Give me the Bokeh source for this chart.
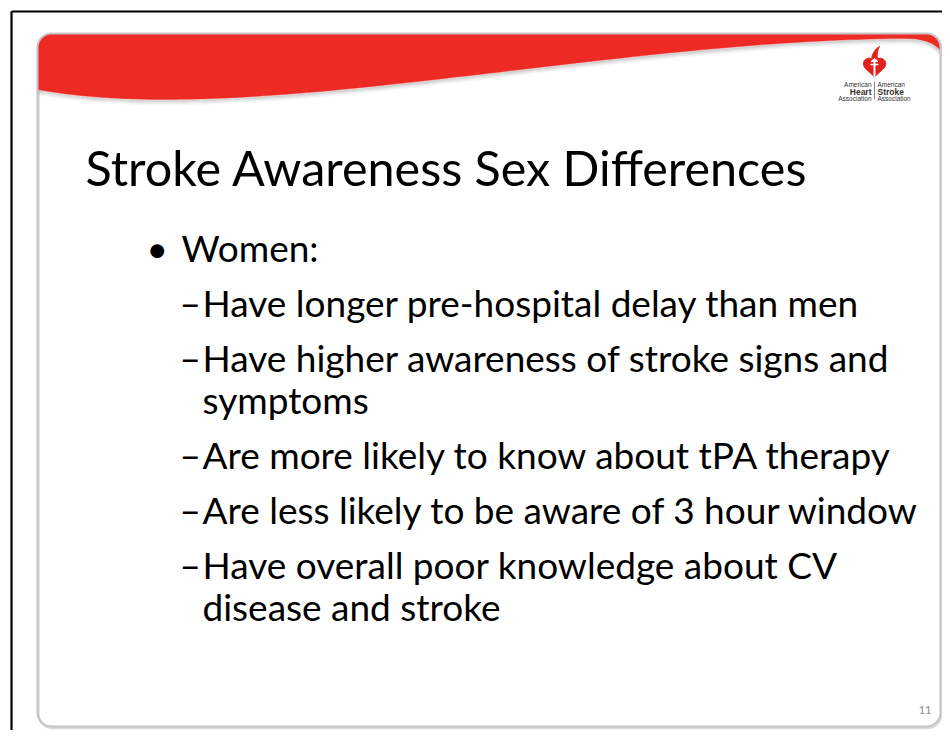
import numpy as np
from bokeh.plotting import figure
from bokeh.models import Range1d, ColumnDataSource
from bokeh.embed import file_html
from bokeh.resources import INLINE
from bokeh.core.properties import value

# ---------------- content ----------------
title = "Stroke Awareness Sex Differences"
bullet_head = "Women:"
sub_items = [
    ["Have longer pre-hospital delay than men"],
    ["Have higher awareness of stroke signs and", "symptoms"],
    ["Are more likely to know about tPA therapy"],
    ["Are less likely to be aware of 3 hour window"],
    ["Have overall poor knowledge about CV", "disease and stroke"],
]
slide_number = "11"
logo_left = ["American", "Heart", "Association"]
logo_right = ["American", "Stroke", "Association"]

# ---------------- layout ----------------
W, H = 942, 730
RED = "#ED2A24"
FONT = "Lato"

p = figure(width=W, height=H, x_range=Range1d(0, W), y_range=Range1d(H, 0),
           output_backend="svg", toolbar_location=None, min_border=0,
           x_axis_location=None, y_axis_location=None)
p.grid.visible = False
p.outline_line_color = None
p.background_fill_color = "white"
p.border_fill_color = "white"

# black outer frame
p.line([11, 11], [H + 5, 11], line_color="black", line_width=2.2)
p.line([11, W + 5], [11, 11], line_color="black", line_width=2.2)


def rounded_rect(x0, y0, x1, y1, r, n=14):
    xs, ys = [], []
    for cx, cy, a0, a1 in [(x0 + r, y0 + r, np.pi, 1.5 * np.pi),
                           (x1 - r, y0 + r, 1.5 * np.pi, 2 * np.pi),
                           (x1 - r, y1 - r, 0, 0.5 * np.pi),
                           (x0 + r, y1 - r, 0.5 * np.pi, np.pi)]:
        a = np.linspace(a0, a1, n)
        xs += list(cx + r * np.cos(a))
        ys += list(cy + r * np.sin(a))
    return xs, ys


X0, Y0, X1, Y1, R = 37, 33, 940, 726, 14

# slide shadow
sx, sy = rounded_rect(X0 + 1, Y0 + 1, X1 + 1, Y1 + 1.5, R)
p.patch(sx, sy, fill_color=None, line_color="#dcdcdc", line_width=2.5)


def bez3(p0, p1, p2, p3, n=80):
    t = np.linspace(0, 1, n)[:, None]
    pts = ((1 - t) ** 3) * np.array(p0) + 3 * ((1 - t) ** 2) * t * np.array(p1) \
        + 3 * (1 - t) * t ** 2 * np.array(p2) + t ** 3 * np.array(p3)
    return pts[:, 0], pts[:, 1]


def bez2(p0, p1, p2, n=20):
    t = np.linspace(0, 1, n)[:, None]
    pts = ((1 - t) ** 2) * np.array(p0) + 2 * (1 - t) * t * np.array(p1) + t ** 2 * np.array(p2)
    return pts[:, 0], pts[:, 1]


cx1, cy1 = bez3((X0, 89), (250, 128), (600, 40), (905, 38))
cx2, cy2 = bez2((905, 38), (930, 38), (X1, 50))
curve_x = np.concatenate([cx1, cx2[1:]])
curve_y = np.concatenate([cy1, cy2[1:]])

# shadow under the banner curve
for k, a in enumerate([0.30, 0.22, 0.15, 0.09, 0.05]):
    p.line(curve_x, curve_y + 1.2 + k, line_color="#808080", line_alpha=a, line_width=1.4)

a = np.linspace(np.pi, 1.5 * np.pi, 14)
tlx = list(X0 + R + R * np.cos(a)); tly = list(Y0 + R + R * np.sin(a))
a = np.linspace(1.5 * np.pi, 2 * np.pi, 14)
trx = list(X1 - R + R * np.cos(a)); try_ = list(Y0 + R + R * np.sin(a))
bx = tlx + trx + list(curve_x[::-1])
by = tly + try_ + list(curve_y[::-1])
p.patch(bx, by, fill_color=RED, line_color=RED, line_width=0.5)

# border on top
rx, ry = rounded_rect(X0, Y0, X1, Y1, R)
p.patch(rx, ry, fill_color=None, line_color="#c4c4c4", line_width=2)

# ---------------- logo ----------------
t = np.linspace(0, 2 * np.pi, 120)
hx = 16 * np.sin(t) ** 3
hy = 13 * np.cos(t) - 5 * np.cos(2 * t) - 2 * np.cos(3 * t) - np.cos(4 * t)
s = 0.70
p.patch(874 + hx * s, 66 - hy * s, fill_color="#E0201B", line_color="#E0201B")
fx, fy = bez2((871, 59), (872, 50), (879, 46))
fx2, fy2 = bez2((879, 46), (876, 52), (877, 59))
p.patch(np.concatenate([fx, fx2]), np.concatenate([fy, fy2]), fill_color="#E0201B", line_color="#E0201B")
p.line([874, 874], [60, 78], line_color="white", line_width=2)
p.line([870, 878], [64, 64], line_color="white", line_width=1.5)
p.patch([870.5, 877.5, 874], [61, 61, 58], fill_color="white", line_color="white")

logo_y = [84, 91, 98]
logo_sizes = ["6.5px", "8.5px", "6.5px"]
for lbl, yy, fs in zip(logo_left, logo_y, logo_sizes):
    p.text(x=[871], y=[yy], text=[lbl], text_align="right", text_baseline="alphabetic",
           text_font=value("Liberation Sans"), text_font_size=fs, text_color="#333333",
           text_font_style="bold" if fs == "8.5px" else "normal")
for lbl, yy, fs in zip(logo_right, logo_y, logo_sizes):
    p.text(x=[877], y=[yy], text=[lbl], text_align="left", text_baseline="alphabetic",
           text_font=value("Liberation Sans"), text_font_size=fs, text_color="#333333",
           text_font_style="bold" if fs == "8.5px" else "normal")
p.line([874, 874], [81, 99], line_color="#666666", line_width=0.8)

# ---------------- text ----------------
p.text(x=[85], y=[166], text=[title], text_font=value(FONT), text_font_size="48.5px",
       text_baseline="alphabetic", text_color="#000000")

p.text(x=[146], y=[247], text=["\u2022"], text_font=value(FONT), text_font_size="37px",
       text_baseline="alphabetic", text_color="#000000")
p.text(x=[181], y=[247], text=[bullet_head], text_font=value(FONT), text_font_size="37px",
       text_baseline="alphabetic", text_color="#000000")

line_x, line_y, line_t, dash_y = [], [], [], []
y = 302
for item in sub_items:
    dash_y.append(y)
    for j, ln in enumerate(item):
        line_x.append(202)
        line_y.append(y)
        line_t.append(ln)
        y += 42 if j < len(item) - 1 else 55
src = ColumnDataSource(dict(x=line_x, y=line_y, t=line_t))
p.text(x="x", y="y", text="t", source=src, text_font=value(FONT), text_font_size="37px",
       text_baseline="alphabetic", text_color="#000000")
p.text(x=[179] * len(dash_y), y=dash_y, text=["\u2013"] * len(dash_y), text_font=value(FONT),
       text_font_size="37px", text_baseline="alphabetic", text_color="#000000")

p.text(x=[931], y=[709], text=[slide_number], text_align="right", text_baseline="alphabetic",
       text_font=value(FONT), text_font_size="11px", text_color="#8a8a8a")

open("out.html", "w").write(file_html(p, INLINE))
